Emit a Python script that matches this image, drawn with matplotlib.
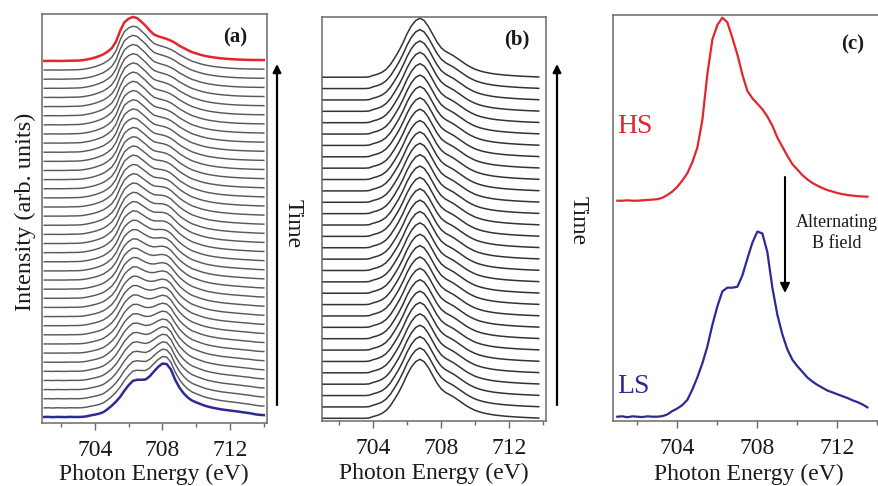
import numpy as np
import matplotlib
matplotlib.use('Agg')
import matplotlib.pyplot as plt
from matplotlib.ticker import MultipleLocator

plt.rcParams['font.family'] = ['Liberation Serif', 'DejaVu Serif']

# ---------------- data ----------------
energy = np.arange(701.0, 714.001, 0.25)   # photon energy grid (eV)

# High-spin spectrum, normalised (panel c, red)
hs = [0.0, 0.0, 0.002, 0.0, 0.0, 0.002, 0.004, 0.006, 0.008, 0.016,
      0.031, 0.05, 0.076, 0.11, 0.15, 0.21, 0.29, 0.44, 0.69, 0.88,
      0.96, 1.0, 0.975, 0.89, 0.80, 0.69, 0.60, 0.56, 0.53, 0.50,
      0.46, 0.41, 0.345, 0.295, 0.245, 0.20, 0.17, 0.14, 0.116, 0.097,
      0.082, 0.069, 0.058, 0.05, 0.042, 0.036, 0.031, 0.028, 0.025, 0.023,
      0.022, 0.021, 0.02]

# Low-spin spectrum, normalised (panel c, blue)
ls = [0.0, 0.002, -0.003, 0.002, 0.0, -0.002, 0.002, 0.0, 0.0, 0.003,
      0.012, 0.03, 0.044, 0.062, 0.09, 0.145, 0.21, 0.285, 0.375, 0.49,
      0.59, 0.67, 0.69, 0.69, 0.695, 0.755, 0.845, 0.93, 0.99, 0.98,
      0.88, 0.69, 0.545, 0.44, 0.36, 0.305, 0.27, 0.24, 0.21, 0.188,
      0.17, 0.155, 0.14, 0.13, 0.12, 0.11, 0.10, 0.088, 0.078, 0.066,
      0.05, 0.04, 0.035]

# Panel (b) spectrum, normalised
b_spec = [0.0, 0.0, 0.0, 0.0, 0.0, 0.0, 0.0, 0.0, 0.0, 0.0,
          0.0, 0.005, 0.03, 0.05, 0.08, 0.13, 0.21, 0.32, 0.44, 0.58,
          0.74, 0.87, 0.96, 1.0, 0.96, 0.86, 0.73, 0.60, 0.50, 0.44,
          0.40, 0.36, 0.31, 0.26, 0.21, 0.17, 0.135, 0.11, 0.09, 0.075,
          0.062, 0.052, 0.044, 0.037, 0.031, 0.026, 0.021, 0.017, 0.013, 0.01,
          0.007, 0.004, 0.002]

# Panel (a): LS fraction of each spectrum, bottom (first) to top (last)
ls_fraction = [1.0, 0.93, 0.87, 0.81, 0.76, 0.71, 0.66, 0.62, 0.58, 0.54,
               0.50, 0.47, 0.44, 0.41, 0.38, 0.35, 0.33, 0.30, 0.28, 0.26,
               0.24, 0.22, 0.20, 0.18, 0.16, 0.15, 0.13, 0.12, 0.10, 0.09,
               0.08, 0.07, 0.06, 0.05, 0.04, 0.03, 0.02, 0.02, 0.01, 0.0]

n_b_curves = 31
major_ticks = [704, 708, 712]
xlabel = 'Photon Energy (eV)'
ylabel = 'Intensity (arb. units)'

hs = np.array(hs)
ls = np.array(ls)
b_spec = np.array(b_spec)

# ---------------- styling ----------------
RED = '#e2262b'
BLUE = '#2c2a95'
GRAY = '#5a5a5a'
DARK = '#333333'
SPINE = '#6a6a6a'

W, H = 879, 486
fig = plt.figure(figsize=(W / 100, H / 100), dpi=100)


def add_ax(l, t, r, b):
    return fig.add_axes([l / W, 1 - b / H, (r - l) / W, (b - t) / H])


axa = add_ax(41.7, 14, 266.7, 422.7)
axb = add_ax(322.3, 16.7, 546, 420.7)
axc = add_ax(613.3, 15, 885, 421)

for ax, lp in ((axa, 2.0), (axb, 3.0), (axc, 3.0)):
    ax.set_yticks([])
    ax.set_xticks(major_ticks)
    ax.xaxis.set_minor_locator(MultipleLocator(2))
    ax.tick_params(axis='x', which='major', direction='out', length=5,
                   width=1.0, color=SPINE, labelsize=17, pad=7.5,
                   labelcolor='#1a1a1a')
    ax.tick_params(axis='x', which='minor', direction='out', length=3,
                   width=1.0, color=SPINE)
    for s in ax.spines.values():
        s.set_color(SPINE)
        s.set_linewidth(1.1)
    ax.set_xlabel(xlabel, fontsize=17, labelpad=lp, color='#1a1a1a')

# Panel (a)
axa.set_xlim(700.85, 714.17)
axa.set_ylim(0, 408.7)
step_a = 9.13
n_a = len(ls_fraction)
for i, f in enumerate(ls_fraction):
    y = 5.7 + i * step_a + (1 - f) * 44 * hs + f * 54 * ls
    if i == 0:
        axa.plot(energy, y, color=BLUE, lw=1.8, zorder=3)
    elif i == n_a - 1:
        axa.plot(energy, y, color=RED, lw=1.8, zorder=3)
    else:
        axa.plot(energy, y, color=GRAY, lw=1.05, zorder=2)

# Panel (b)
axb.set_xlim(701.0, 714.18)
axb.set_ylim(0, 404)
mask_b = energy <= 713.8
for i in range(n_b_curves):
    y = 2.4 + i * 11.37 + 59 * b_spec
    axb.plot(energy[mask_b], y[mask_b], color=DARK, lw=1.1)

# Panel (c)
axc.set_xlim(700.8, 714.38)
axc.set_ylim(0, 406)
mask_c = energy <= 713.65
axc.plot(energy[mask_c], 220.3 + 183 * hs[mask_c], color=RED, lw=1.6,
         solid_joinstyle='round')
axc.plot(energy[mask_c], 4.3 + 187 * ls[mask_c], color=BLUE, lw=1.6,
         solid_joinstyle='round')

# ---------------- annotations ----------------
fig.text(25 / W, 1 - 212 / H, ylabel, rotation=90, fontsize=17.5,
         ha='center', va='center', color='#1a1a1a')
fig.text(293 / W, 1 - 224 / H, 'Time', rotation=270, fontsize=17,
         ha='center', va='center', color='#1a1a1a')
fig.text(578 / W, 1 - 221 / H, 'Time', rotation=270, fontsize=17,
         ha='center', va='center', color='#1a1a1a')

for xpx in (277, 557):
    axa.annotate('', xy=(xpx, H - 64), xytext=(xpx, H - 405),
                 xycoords='figure pixels', textcoords='figure pixels',
                 arrowprops=dict(arrowstyle='-|>', lw=1.6, color='black',
                                 mutation_scale=12, shrinkA=0, shrinkB=0),
                 annotation_clip=False)

axc.annotate('', xy=(785, H - 293), xytext=(785, H - 177),
             xycoords='figure pixels', textcoords='figure pixels',
             arrowprops=dict(arrowstyle='-|>', lw=1.5, color='black',
                             mutation_scale=14, shrinkA=0, shrinkB=0),
             annotation_clip=False)
fig.text(837 / W, 1 - 233 / H, 'Alternating\nB field', fontsize=13,
         ha='center', va='center', linespacing=1.35, color='#1a1a1a')

fig.text(235 / W, 1 - 37 / H, '(a)', fontsize=15, fontweight='bold',
         ha='center', va='center', color='#1a1a1a')
fig.text(517 / W, 1 - 39 / H, '(b)', fontsize=15, fontweight='bold',
         ha='center', va='center', color='#1a1a1a')
fig.text(853 / W, 1 - 44 / H, '(c)', fontsize=15, fontweight='bold',
         ha='center', va='center', color='#1a1a1a')

fig.text(617 / W, 1 - 126 / H, 'HS', fontsize=20, color=RED,
         ha='left', va='center')
fig.text(617 / W, 1 - 386 / H, 'LS', fontsize=20, color=BLUE,
         ha='left', va='center')

fig.savefig('out.png', dpi=100)
